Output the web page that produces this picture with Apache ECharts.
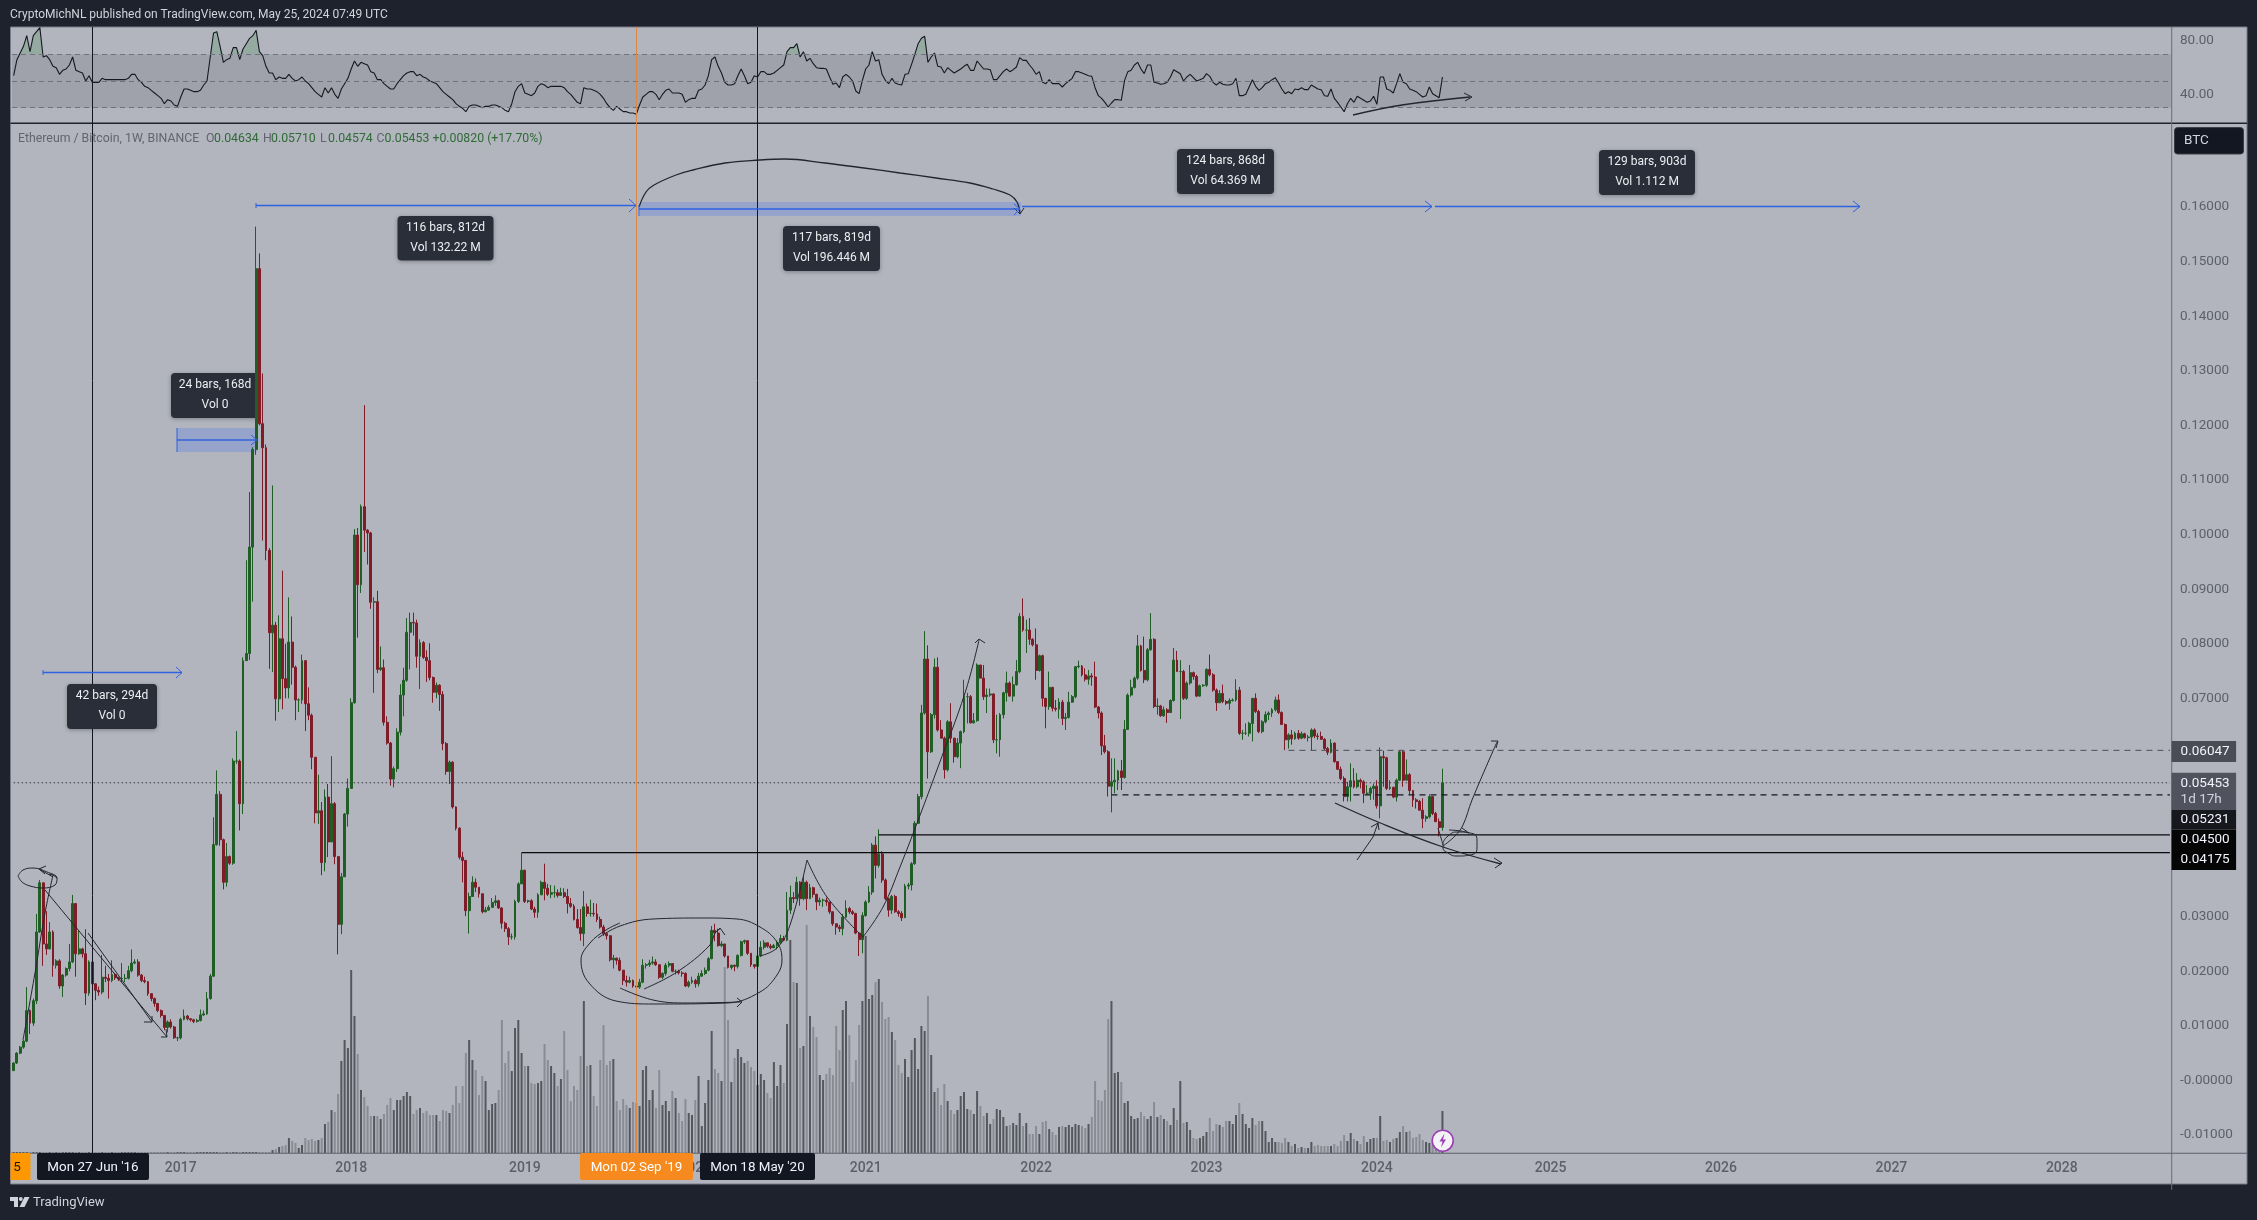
<!DOCTYPE html>
<html><head><meta charset="utf-8"><title>ETHBTC 1W</title>
<style>html,body{margin:0;padding:0;background:#1e222d}#c{width:2257px;height:1220px}</style>
<script src="https://cdn.jsdelivr.net/npm/echarts@6/dist/echarts.min.js"></script></head>
<body><div id="c"></div>
<script>
// Weekly bars; prices in units of 0.0001 BTC
const firstOpen = 18;
const closes = [
32,50,61,72,128,105,146,272,362,250,
241,272,211,219,173,193,205,217,324,232,
241,232,160,217,177,165,162,189,187,183,
194,188,186,187,187,201,215,217,193,183,
181,159,150,141,128,119,97,107,98,78,
78,112,118,113,111,108,110,120,122,150,
191,432,524,441,363,410,398,585,585,507,
769,782,977,1156,1487,1203,1159,971,820,834,
699,809,736,719,803,757,697,697,769,690,
669,592,490,494,399,519,437,507,410,286,
373,488,535,692,999,908,1051,1008,1003,876,
877,753,756,656,618,552,571,638,706,733,
821,839,838,777,802,775,769,738,711,724,
707,617,566,583,501,462,409,403,311,337,
363,354,342,309,312,317,326,329,316,288,
278,263,263,328,360,385,328,329,314,308,
340,363,352,341,344,344,339,344,337,324,
319,295,280,269,318,306,306,305,295,281,
269,265,221,224,220,202,183,180,183,173,
171,180,211,212,215,217,212,189,196,211,
214,200,200,197,196,173,180,183,177,191,
196,202,223,275,270,247,250,228,207,211,
209,229,254,256,233,212,209,228,244,252,
246,243,247,252,260,257,312,335,333,363,
333,363,333,353,341,327,330,330,327,309,
287,281,278,299,315,309,306,270,258,302,
327,345,431,394,415,367,333,312,337,309,
306,298,356,358,397,471,520,673,772,602,
670,757,642,627,569,657,627,593,618,639,
703,703,655,659,761,737,703,706,708,624,
624,670,710,728,704,725,749,850,825,825,
808,798,751,778,700,685,720,682,680,693,
663,665,693,703,758,759,743,735,741,739,
684,673,613,602,539,547,550,567,555,643,
706,720,737,796,751,734,789,808,685,686,
668,679,674,696,770,749,749,700,728,747,
740,704,723,724,753,743,715,692,709,694,
691,696,697,715,636,636,636,654,700,676,
639,657,670,673,679,697,674,652,624,633,
626,636,627,635,628,629,642,631,630,625,
608,601,618,584,570,553,520,538,549,538,
550,547,526,526,535,539,503,593,591,535,
537,519,550,602,550,560,531,514,511,495,
480,483,520,489,474,463.4,545.3];
const highs = [
33,52,63,74,171,130,150,305,367,362,
310,290,275,222,222,195,207,250,340,324,
275,243,277,220,220,178,172,230,210,195,
220,197,190,215,195,210,240,222,222,195,
190,182,160,152,142,130,120,110,112,100,
80,115,130,120,114,113,113,130,128,162,
195,482,568,530,443,435,412,590,640,588,
775,953,1078,1160,1564,1515,1295,1165,975,1090,
840,852,934,800,885,850,760,700,780,770,
720,672,592,560,510,533,543,594,510,410,
380,490,553,700,1010,1012,1055,1237,1010,1005,
885,897,795,771,667,620,575,645,726,756,
847,857,857,844,808,805,788,801,740,729,
726,713,620,586,585,502,464,419,404,344,
374,370,350,317,318,321,334,339,331,317,
291,281,269,331,363,417,386,331,332,318,
343,366,397,360,358,357,350,353,352,351,
334,323,314,314,347,324,331,325,324,300,
285,270,266,230,225,225,202,192,190,185,
180,186,222,215,221,227,222,212,198,215,
218,215,203,203,200,198,183,190,186,197,
202,207,226,283,287,278,255,250,228,212,
212,231,256,258,257,233,213,232,255,257,
252,250,250,256,267,265,345,357,345,373,
365,373,366,360,355,342,335,333,335,327,
310,287,285,305,330,318,312,307,271,308,
330,356,435,447,460,420,370,335,340,340,
312,310,360,362,400,475,525,688,823,797,
673,773,775,660,630,660,691,625,627,641,
734,710,706,673,764,761,761,718,718,709,
670,673,712,749,731,740,770,856,883,844,
847,810,828,780,780,700,749,721,697,700,
697,673,712,706,759,769,761,755,752,746,
767,686,676,633,605,590,590,569,587,660,
709,734,740,816,798,813,792,856,810,700,
688,685,682,698,792,787,770,752,731,761,
749,743,725,726,755,780,746,718,715,725,
697,700,700,735,721,642,654,657,700,709,
679,660,676,676,682,703,707,676,654,636,
642,639,642,639,637,633,645,645,636,639,
627,611,625,619,585,575,557,547,581,572,
563,553,550,541,538,544,550,610,604,593,
550,538,553,604,604,588,563,532,517,514,
517,486,524,520,492,480,571];
const lows = [
18,30,48,58,70,85,100,140,270,210,
230,240,190,205,168,153,190,200,215,190,
230,225,138,155,150,147,155,158,180,150,
180,184,182,180,180,185,198,213,190,180,
178,155,145,135,125,115,92,88,95,76,
72,75,110,110,108,105,106,108,118,120,
148,190,430,430,350,355,395,395,580,458,
488,770,770,877,1146,1200,989,953,754,748,
659,675,680,700,700,725,660,675,690,640,
660,570,471,470,376,383,409,437,396,231,
268,373,465,685,690,811,893,968,945,864,
710,746,750,650,615,540,537,565,632,667,
730,753,815,756,717,772,730,733,692,700,
677,605,560,543,498,458,405,363,301,269,
345,345,335,306,308,311,320,320,314,278,
272,248,258,258,325,360,325,325,312,298,
298,340,330,338,334,335,335,340,334,306,
316,293,278,256,246,300,300,300,290,278,
265,258,218,205,212,200,175,172,178,170,
160,168,178,205,208,212,210,186,186,192,
207,198,194,194,190,171,170,177,170,172,
190,193,200,222,255,245,244,225,205,203,
200,205,227,250,230,208,205,205,226,240,
243,240,243,240,250,255,255,305,325,332,
320,330,312,332,335,312,320,318,320,305,
283,267,272,266,298,305,303,268,228,233,
300,325,340,370,390,362,330,300,305,307,
300,292,300,350,348,395,470,515,670,553,
600,663,639,627,553,566,618,582,590,572,
636,654,654,654,657,737,697,673,703,618,
599,593,663,694,703,694,723,746,822,783,
798,795,734,749,685,645,679,676,676,663,
651,642,663,692,700,755,740,731,725,723,
682,663,596,599,520,491,526,532,532,553,
642,703,718,734,749,728,731,787,682,670,
666,666,655,673,694,749,662,697,697,725,
734,702,703,721,721,740,712,677,691,691,
688,679,694,694,633,624,633,630,621,673,
636,636,654,660,666,676,671,651,605,608,
615,624,624,625,626,621,605,627,624,624,
605,596,599,582,569,550,511,511,511,535,
535,535,508,523,514,514,498,480,538,532,
532,517,511,549,538,550,523,501,498,495,
462,474,480,486,474,447,457.4];
// Volume in picture units (bar height), 0 before the pair was listed
const volumes = new Array(79).fill(0).concat([
3,4,6,7,8,15,12,10,5,8,15,
13,14,12,13,15,29,31,43,41,59,
92,113,105,183,137,99,63,56,47,37,
37,37,34,39,48,55,43,53,53,57,
61,57,39,43,45,40,42,38,38,38,
32,43,42,40,48,67,50,67,100,113,
93,83,58,77,72,43,49,50,63,133,
90,102,82,125,133,100,87,87,70,69,
70,72,109,93,87,80,67,74,122,83,
52,67,63,97,152,87,88,57,47,93,
128,88,92,94,52,43,54,48,45,51,
50,47,83,87,53,63,45,83,48,52,
42,62,55,40,32,54,40,38,53,77,
27,50,73,122,84,80,72,186,133,71,
95,104,96,90,92,86,82,68,79,73,
60,55,91,67,88,70,129,213,171,170,
105,107,228,137,126,116,78,73,79,85,
78,127,103,143,152,118,71,93,128,152,
217,154,158,171,174,151,134,136,121,113,
88,80,94,76,103,115,84,127,122,157,
98,61,65,48,69,52,43,39,43,57,
61,44,43,39,62,47,37,40,29,34,
44,43,36,27,28,30,28,40,27,30,
19,19,27,19,31,32,24,21,18,26,
27,26,28,26,29,28,27,25,29,36,
72,53,52,63,134,152,80,81,71,50,
52,37,34,35,41,37,34,37,51,36,
38,34,32,28,45,33,72,30,31,23,
15,14,15,17,21,35,22,29,28,26,
32,32,29,38,50,39,29,25,35,28,
32,32,22,11,15,11,11,10,15,11,
7,9,5,6,5,5,11,7,8,7,
7,7,7,9,7,12,18,12,20,14,
12,9,17,11,14,15,15,37,12,13,
11,14,15,21,27,21,22,15,16,19,
13,11,10,8,9,12,42]);
const rsiValues = [
54,66,71,76,84,72,84,87,90,68,
69,66,61,60,55,58,59,62,68,58,
57,56,50,54,49,49,49,52,51,51,
51,51,51,51,51,52,55,55,51,49,
46,45,43,41,39,37,33,36,35,32,
31,38,44,44,43,42,42,43,47,50,
68,86,87,76,64,66,67,75,75,66,
74,78,82,84,88,72,69,61,56,56,
51,53,52,52,55,52,50,51,53,50,
48,45,42,40,38,45,41,45,40,37,
44,48,52,59,65,61,64,63,62,57,
56,51,51,48,46,44,44,48,51,54,
56,57,57,54,55,53,52,50,49,48,
45,42,40,38,36,33,31,29.5,27,31,
32,32,31,30,31,31,32,32,31,30,
28,27,33,42,46,48,41,40,39,41,
46,48,47,45,46,46,46,46,45,42,
40,37,34,33,45,44,44,43,42,40,
37,33,30,28,31,29,27,27,26,26,
25,32,38,40,42,42,40,36,40,43,
44,41,41,41,40,34,36,37,37,43,
44,47,54,66,68,61,56,49,47,47,
48,54,59,54,48,49,54,53,57,57,
55,55,56,58,60,62,72,75,75,78,
68,72,65,67,63,60,59.5,59.5,59,53,
47.5,48.5,45,53,55,53,50,42.5,40.5,50.5,
59,62,72,65,66,55,50.5,48,52,48.5,
47.5,47,55,55.5,62.5,70,78,82,83.5,64,
68,71,61,60.5,56,60,58,56,57.5,59,
61,62.5,58,58,65,62,59,59,58.5,51,
51,54,57,59,57,58.5,60.5,67.5,65.5,65.5,
62,59,55,57,49,48,51,48,48,48,
45.5,48,50,52,57,57,56,55,54,53.5,
45,39,37,34,30.5,33.5,36,36,35.5,50.5,
57,58,62,64,59,55.5,62,62,49,48.5,
47.5,48,49,53,58.5,57,55.5,50,53,55,
52.5,50,51,52,55.5,53.5,49,47,49,47.5,
47,47,48,52,39,39,40,45.5,51,46,
43,45,48,49,51,52.5,48.5,44,40.5,42,
40.5,44,43.5,45,43.5,43.5,47,45.5,44,43.5,
39,38.5,44,37,34,30.5,27,33,37,34,
38.5,37,35.5,34,35,38.5,32.5,53,53,44,
43,41,48,55.5,49,48,44,43,42,40,
38,39,45.5,40.5,39,37.5,53];
const priceTicks = [-0.01,0,0.01,0.02,0.03,0.04,0.05,0.06,0.07,0.08,0.09,0.10,0.11,0.12,0.13,0.14,0.15,0.16];
const rsiTicks = [40,80];
const yearTicks = ['2017-01-02','2018-01-01','2019-01-07','2020-01-06','2021-01-04','2022-01-03','2023-01-02','2024-01-01','2025-01-06','2026-01-05','2027-01-04','2028-01-03'];
const levelSolid = [[0.04175,155],[0.045,264]];
const levelDashed = [[0.05231,335,'#131722',1.4],[0.06047,389,'#4a4d56',1]];
const lastPrice = 0.05453;
const vLines = [['2016-06-27','#131722'],['2019-09-02','#d98a46'],['2020-05-18','#131722']];

// Weekly category axis starting on Mon 11 Jan 2016
const categories = [];
for (let i=0;i<659;i++){ categories.push(new Date(Date.UTC(2016,0,11+i*7)).toISOString().slice(0,10)); }

const UP='#1f5e25', DOWN='#7f1c28', INK='#23262f', BLUE='#2f62e0';
const unit=1e-4;
const candleData = closes.map((c,i)=>{
  const o = i? closes[i-1]:firstOpen;
  return [o*unit,c*unit,Math.min(lows[i],o,c)*unit,Math.max(highs[i],o,c)*unit];
});
const volData = volumes.map((v,i)=>({value:v,itemStyle:{color:(candleData[i][1]>=candleData[i][0])?'#55575f':'#8a8c95'}}));

// Hand-drawn notes, in page pixels on the overlay axes
const inkStrokes = [
 {s:1,p:[[18,876],[23,870],[33,868],[47,872],[57,878],[55,885],[43,888],[30,886],[22,882],[18,876]]},
 {p:[[46,866],[39,869],[45,874]]},{p:[[39,869],[53,877]]},
 {s:1,p:[[23,1040],[35,973],[45,913],[53,875]]},{p:[[49,874],[53,875],[57,878]]},
 {p:[[45,890],[167,1037]]},{p:[[161,1037],[167,1037],[166,1029]]},
 {p:[[88,933],[152,1022]]},{p:[[144,1022],[152,1022],[152,1016]]},
 {s:1,p:[[620,923],[606,930],[590,943],[581,960],[589,983],[616,1001],[654,1004],[727,1003],[760,992],[777,975],[782,960],[777,942],[760,927],[737,919],[703,918],[653,919],[620,926],[598,938]]},
 {s:1,p:[[620,988],[653,1000],[687,1003],[741,1002]]},{p:[[737,998],[742,1002],[737,1007]]},
 {s:1,p:[[644,989],[677,972],[710,945],[715,933],[720,929]]},{p:[[716,932],[720,928],[725,935]]},
 {s:1,p:[[760,956],[777,948],[790,925],[807,860]]},
 {s:1,p:[[807,860],[827,897],[863,937]]},
 {s:1,p:[[863,937],[883,907],[900,867],[922,810],[938,767],[965,693],[979,640]]},{p:[[975,643],[979,639],[985,643]]},
 {s:1,w:1.3,p:[[639,207],[646,192],[654,185],[676,175],[693,170],[725,163],[760,160],[785,159],[825,163],[864,168],[900,173],[936,178],[970,183],[993,189],[1010,195],[1017,202],[1020,213]]},
 {p:[[1014,208],[1020,214],[1024,208]]},
 {s:1,w:1.3,p:[[1335,803],[1378,822],[1443,847],[1501,864]]},{p:[[1494,858],[1502,863],[1495,868]]},
 {p:[[1357,860],[1373,837],[1378,823]]},{p:[[1371,827],[1378,823],[1379,830]]},
 {s:1,p:[[1443,846],[1455,836],[1463,825],[1472,800],[1497,742]]},{p:[[1491,741],[1498,741],[1496,748]]},
 {s:1,p:[[1438,828],[1441,838],[1443,845]]},
 {s:0.6,p:[[1443,843],[1448,836],[1458,832],[1470,833],[1477,840],[1477,848],[1470,855],[1458,856],[1448,853],[1443,847],[1443,843]]},
 {s:1,p:[[1449,830],[1461,831],[1469,833]]},{p:[[1462,828],[1469,833]]},
 {s:1,w:1.3,p:[[1353,115],[1402,105],[1470,97]]},{p:[[1464,93],[1472,97],[1465,101]]},
 // measure arrows
 {c:BLUE,w:1.3,p:[[256,205.5],[636,205.5]]},{c:BLUE,p:[[629,199],[636,205.5],[629,212]]},{c:BLUE,p:[[256,203],[256,208]]},
 {c:BLUE,w:1.3,p:[[639,209],[1020,209]]},{c:BLUE,p:[[639,205],[639,216]]},{c:BLUE,p:[[1014,204],[1020,209],[1014,215]]},
 {c:BLUE,w:1.3,p:[[1022,206.5],[1432,206.5]]},{c:BLUE,p:[[1425,201],[1432,206.5],[1425,212]]},
 {c:BLUE,w:1.3,p:[[1435,206.5],[1860,206.5]]},{c:BLUE,p:[[1853,201],[1860,206.5],[1853,212]]},
 {c:BLUE,w:1.3,p:[[43,672.5],[182,672.5]]},{c:BLUE,p:[[176,667],[182,672.5],[176,678]]},{c:BLUE,p:[[43,670],[43,675]]},
 {c:BLUE,w:1.3,p:[[177,440],[257,440]]},{c:BLUE,p:[[177,428],[177,452]]},{c:BLUE,p:[[251,435],[257,440],[251,445]]}
];
const inkSeries = inkStrokes.map(k=>({
  type:'line',xAxisIndex:2,yAxisIndex:3,data:k.p,clip:false,silent:true,z:6,showSymbol:false,symbol:'none',
  smooth:k.s?(k.s===1?0.4:k.s):false,lineStyle:{color:k.c||INK,width:k.w||1}
}));

const els=[];
function R(x,y,w,h,fill,z,r,extra){els.push({type:'rect',z:z,silent:true,shape:{x,y,width:w,height:h,r:r||0},style:Object.assign({fill},extra||{})});}
function T(txt,x,y,fill,font,z,align){els.push({type:'text',z:z,silent:true,style:{text:txt,x,y,fill,font,textAlign:align||'left',textVerticalAlign:'middle'}});}
const FONT='Roboto, sans-serif';
// pane
R(10.5,27,2236.5,1157,'#b2b5be',-5);
els.push({type:'rect',z:-4,silent:true,shape:{x:10.5,y:27,width:2236.5,height:1157},style:{fill:'none',stroke:'#787b86',lineWidth:1}});
R(10.5,122.5,2236.5,1.5,'#1e222d',4);
R(2171.2,27,1,1163,'#6a6d78',4);
R(10.5,1152.8,2236.5,1,'#5d606b',4);
// header / legend / footer
T('CryptoMichNL published on TradingView.com, May 25, 2024 07:49 UTC',10,15,'#d1d4dc','12px '+FONT,100);
T('Ethereum / Bitcoin, 1W, BINANCE',18,139,'#62656f','12.3px '+FONT,100);
[['O','0.04634',206],['H','0.05710',263],['L','0.04574',320],['C','0.05453',376.6]].forEach(g=>{
  T(g[0],g[2],139,'#62656f','12.3px '+FONT,100);
  T(g[1],g[2]+8,139,'#2f6b36','12.3px '+FONT,100);
});
T('+0.00820 (+17.70%)',432.4,139,'#2f6b36','12.3px '+FONT,100);
T('TradingView',33,1203,'#d1d4dc','13px '+FONT,100);
els.push({type:'polygon',z:100,silent:true,shape:{points:[[10,1197],[18,1197],[18,1207],[14,1207],[14,1201],[10,1201]]},style:{fill:'#d1d4dc'}});
els.push({type:'circle',z:100,silent:true,shape:{cx:20.8,cy:1199,r:1.9},style:{fill:'#d1d4dc'}});
els.push({type:'polygon',z:100,silent:true,shape:{points:[[24.5,1197],[29.5,1197],[24.5,1207],[19.5,1207]]},style:{fill:'#d1d4dc'}});
// measure bands
R(640,202,381,14,'rgba(41,98,255,0.2)',1);
R(177,428,80,24,'rgba(41,98,255,0.2)',1);
// measure captions
function box(x,y,w,h,a,b,z){
  R(x,y,w,h,'#2a2e39',z,4,{shadowBlur:4,shadowColor:'rgba(0,0,0,0.3)',shadowOffsetY:1});
  T(a,x+w/2,y+h*0.27,'#eceef2','12px '+FONT,z,'center');
  T(b,x+w/2,y+h*0.72,'#eceef2','12px '+FONT,z,'center');
}
box(397.5,216,96,44.5,'116 bars, 812d','Vol 132.22 M',100);
box(783,226,97,45,'117 bars, 819d','Vol 196.446 M',100);
box(1177,149,97,45,'124 bars, 868d','Vol 64.369 M',100);
box(1599,150,96,45,'129 bars, 903d','Vol 1.112 M',100);
box(67,684,90,45,'42 bars, 294d','Vol 0',100);
box(171,373,88,45,'24 bars, 168d','Vol 0',1);
// price scale badges
R(2174.5,127.6,69,26.4,'#131722',100,3,{stroke:'#3a3d47',lineWidth:1});
T('BTC',2184,141,'#d1d4dc','13.5px '+FONT,101);
R(2171.6,741,64.5,21,'#4a4d56',100);
T('0.06047',2180.6,752,'#f0f3fa','13.5px '+FONT,101);
R(2171.6,772.7,64.5,37.5,'#50535e',100);
T('0.05453',2180.6,784,'#f0f3fa','13.5px '+FONT,101);
T('1d 17h',2180.6,800,'#d1d4dc','13.5px '+FONT,101);
R(2171.6,810,64.5,19.5,'#17181d',100);
T('0.05231',2180.6,820,'#f0f3fa','13.5px '+FONT,101);
R(2171.6,829.5,64.5,40.5,'#050506',100);
T('0.04500',2180.6,840,'#f0f3fa','13.5px '+FONT,101);
T('0.04175',2180.6,860,'#f0f3fa','13.5px '+FONT,101);
// time scale badges
R(10.5,1153,20,27,'#ff9800',100);
T('5',17,1168,'#131722','13.5px '+FONT,101,'center');
R(37,1153,112,27,'#131722',100,2);
T("Mon 27 Jun '16",93,1168,'#f0f3fa','13.4px '+FONT,101,'center');
R(580,1153,113,27,'#f68a1e',100,2);
T("Mon 02 Sep '19",636.5,1168,'#ffffff','13.4px '+FONT,101,'center');
R(700,1153,115,27,'#131722',100,2);
T("Mon 18 May '20",757.5,1168,'#f0f3fa','13.4px '+FONT,101,'center');
// dividends-style flash icon
els.push({type:'circle',z:100,silent:true,shape:{cx:1442.7,cy:1140.7,r:10.5},style:{fill:'#f4f2f6',stroke:'#9c3fb5',lineWidth:1.6}});
els.push({type:'polygon',z:101,silent:true,shape:{points:[[1444.5,1133.5],[1439.5,1141.5],[1442.5,1141.5],[1441,1147.5],[1446,1139.5],[1443,1139.5]]},style:{fill:'#9c3fb5'}});

const levelSeries = [];
levelSolid.forEach(l=>levelSeries.push({type:'line',xAxisIndex:1,yAxisIndex:1,z:5,silent:true,symbol:'none',
  data:[[categories[l[1]],l[0]],[categories[658],l[0]]],lineStyle:{color:'#0a0a0c',width:1.3}}));
levelDashed.forEach(l=>levelSeries.push({type:'line',xAxisIndex:1,yAxisIndex:1,z:5,silent:true,symbol:'none',
  data:[[categories[l[1]],l[0]],[categories[658],l[0]]],lineStyle:{color:l[2],width:l[3],type:[6,5]}}));
levelSeries.push({type:'line',xAxisIndex:1,yAxisIndex:1,z:1,silent:true,symbol:'none',
  data:[[categories[0],lastPrice],[categories[658],lastPrice]],lineStyle:{color:'#3a3d46',width:1,type:[1.5,2.5]}});

const vMark = {silent:true,symbol:'none',label:{show:false},animation:false,
  data:vLines.map(v=>({xAxis:v[0],lineStyle:{color:v[1],width:1,type:'solid'}}))};

const chart = echarts.init(document.getElementById('c'),null,{renderer:'canvas'});
chart.setOption({
  animation:false,backgroundColor:'#1e222d',
  graphic:{elements:els},
  grid:[
    {left:12,top:27,width:2159.6,height:96},
    {left:12,top:123,width:2159.6,height:1030},
    {left:0,top:0,width:2257,height:1220}
  ],
  xAxis:[
    {type:'category',gridIndex:0,data:categories,show:false},
    {type:'category',gridIndex:1,data:categories,
      axisLine:{show:false},axisTick:{show:false},
      axisLabel:{interval:(i,v)=>yearTicks.includes(v),formatter:v=>v.slice(0,4),color:'#5d606b',fontFamily:'Roboto',fontWeight:500,fontSize:14,margin:8,hideOverlap:false}},
    {type:'value',gridIndex:2,min:0,max:2257,show:false}
  ],
  yAxis:[
    {type:'value',gridIndex:0,position:'right',min:18.5,max:90.5,splitLine:{show:false},axisLine:{show:false},axisTick:{show:false},
     axisLabel:{customValues:rsiTicks,formatter:v=>v.toFixed(2),color:'#5d606b',fontFamily:'Roboto',fontSize:13.5,margin:8.4}},
    {type:'value',gridIndex:1,position:'right',min:-0.013292,max:0.175387,splitLine:{show:false},axisLine:{show:false},axisTick:{show:false},
     axisLabel:{customValues:priceTicks,formatter:v=>(v<=0?'-':'')+Math.abs(v).toFixed(5),color:'#5d606b',fontFamily:'Roboto',fontSize:13.5,margin:8.4}},
    {type:'value',gridIndex:1,min:0,max:1030,show:false},
    {type:'value',gridIndex:2,min:0,max:1220,inverse:true,show:false}
  ],
  series:[
    {type:'line',name:'RSI',xAxisIndex:0,yAxisIndex:0,data:rsiValues,symbol:'none',z:4,silent:true,
     lineStyle:{color:'#16181f',width:1.1},
     markArea:{silent:true,itemStyle:{color:'#9fa2ab'},data:[[{yAxis:30},{yAxis:70}]],z:1},
     markLine:{silent:true,symbol:'none',label:{show:false},animation:false,
       data:[{yAxis:70},{yAxis:50},{yAxis:30}].map(d=>Object.assign(d,{lineStyle:{color:'#6f727c',width:1,type:[5,4]}})).concat(vMark.data)}},
    {type:'line',name:'RSI overbought',xAxisIndex:0,yAxisIndex:0,data:rsiValues.map(v=>Math.max(v,70)),symbol:'none',z:3,silent:true,
     lineStyle:{width:0,opacity:0},areaStyle:{origin:70,color:'rgba(60,140,80,0.35)'}},
    {type:'bar',name:'Volume',xAxisIndex:1,yAxisIndex:2,data:volData,barWidth:2,barMinHeight:1,z:1,silent:true},
    {type:'candlestick',name:'ETHBTC',xAxisIndex:1,yAxisIndex:1,data:candleData,barWidth:2.4,z:3,silent:true,
     itemStyle:{color:UP,color0:DOWN,borderColor:UP,borderColor0:DOWN,borderWidth:1},
     markLine:vMark}
  ].concat(levelSeries,inkSeries)
});
</script></body></html>
